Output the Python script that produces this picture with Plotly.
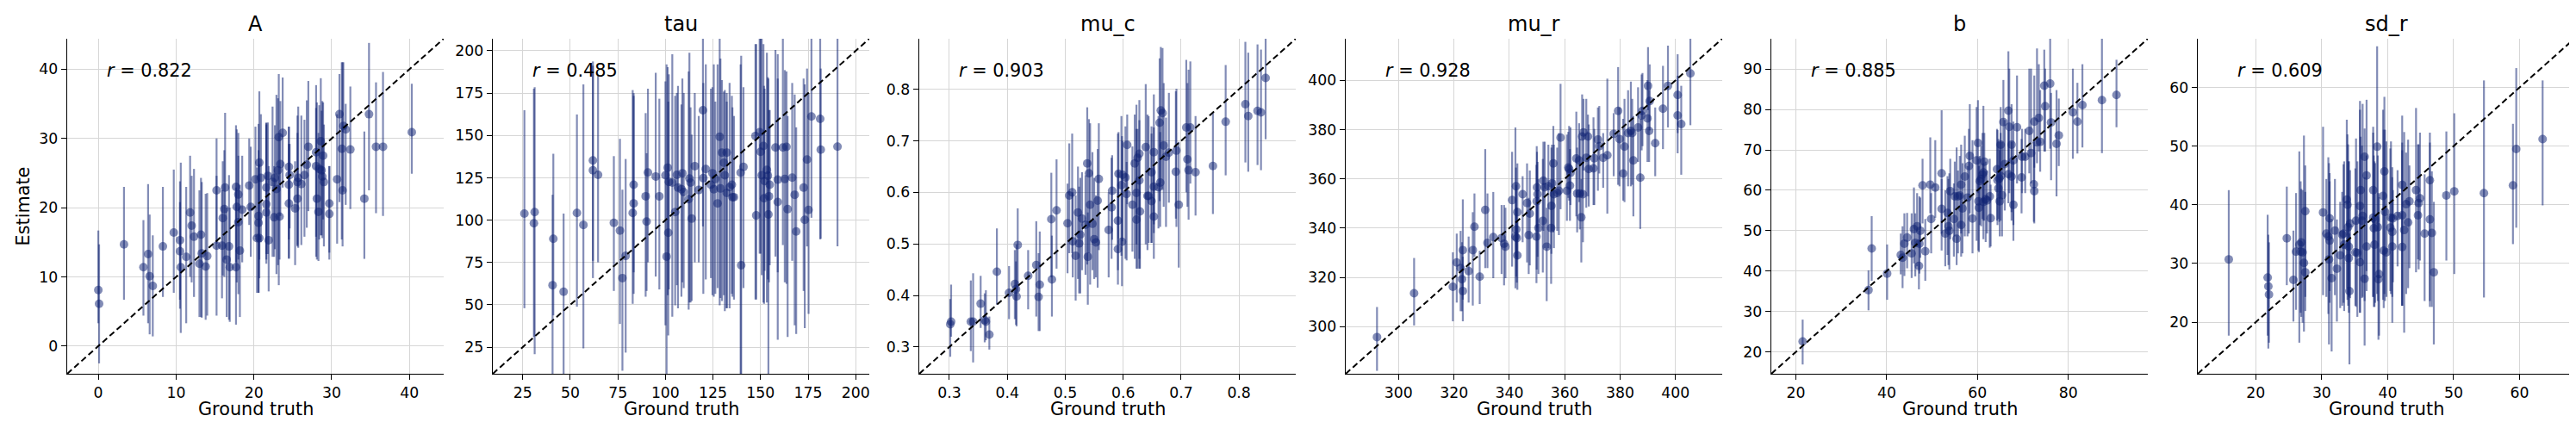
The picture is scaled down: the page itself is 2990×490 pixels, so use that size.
import plotly.graph_objects as go

# ---------------- data ----------------
panel_titles = ["A", "tau", "mu_c", "mu_r", "b", "sd_r"]
r_labels = ["0.822", "0.485", "0.903", "0.928", "0.885", "0.609"]

A_truth = [0.0,0.1,3.3,5.8,6.4,6.6,7.0,8.3,9.7,10.5,10.5,10.6,11.3,11.8,12.0,12.3,13.0,13.2,13.3,13.8,14.0,15.2,15.2,15.9,16.0,16.2,16.3,16.5,16.8,16.9,17.7,17.7,17.8,18.0,18.0,18.2,18.5,19.4,19.6,20.2,20.4,20.6,20.6,20.7,20.7,20.9,21.6,21.6,21.6,21.8,21.9,22.4,22.6,22.7,22.9,23.1,23.2,23.3,23.4,23.7,24.5,24.5,24.5,24.6,25.3,25.6,25.6,25.7,26.1,26.5,26.8,27.0,28.0,28.0,28.1,28.3,28.4,28.6,28.7,28.8,28.9,29.0,29.7,29.7,30.7,31.0,31.3,31.4,31.5,31.8,32.4,34.2,34.8,35.7,36.6,40.3]
A_est = [8.1,6.1,14.7,11.4,13.3,10.1,8.7,14.4,16.4,15.3,13.7,11.4,12.9,19.3,17.4,15.8,11.9,16.1,13.4,11.5,13.0,22.5,14.5,14.5,18.5,19.8,22.9,12.5,14.4,11.4,23.0,11.4,20.1,21.9,17.9,13.8,19.7,23.2,20.1,24.1,15.6,18.8,17.8,26.5,15.6,24.3,22.9,20.5,19.3,24.6,15.3,23.7,18.6,24.3,22.7,25.4,30.2,18.7,26.3,30.8,25.9,23.3,20.6,24.7,19.9,21.3,23.7,24.3,23.4,24.7,26.2,28.8,28.0,26.0,21.3,19.4,25.6,29.6,25.4,24.5,27.5,23.7,20.6,19.1,24.1,33.5,28.5,22.5,31.8,31.3,28.4,21.3,33.5,28.8,28.8,30.9]
A_lo = [3.3,-2.5,6.7,4.4,3.3,1.7,1.4,7.1,7.7,6.7,5.4,1.9,3.3,10.0,9.2,7.1,4.2,4.2,4.1,3.8,4.4,14.8,4.4,6.9,10.2,10.0,12.5,4.2,3.8,3.5,12.1,3.1,9.2,12.5,7.5,4.2,12.1,17.5,12.9,15.8,7.7,7.7,7.7,12.5,9.8,15.0,13.3,12.5,11.9,13.3,7.9,12.9,12.9,14.0,10.4,11.7,8.8,12.5,18.8,22.9,12.7,15.4,12.6,17.0,11.7,14.4,14.6,14.2,14.6,15.8,17.1,19.5,15.8,12.9,12.5,12.3,15.4,16.0,16.0,15.6,18.3,14.4,13.5,12.5,14.8,20.8,15.4,14.4,22.3,20.4,19.8,12.6,22.5,19.2,18.8,24.9]
A_hi = [16.7,14.7,23.0,18.2,23.4,19.0,16.0,23.0,25.5,23.8,20.8,26.5,23.0,27.5,24.6,25.6,22.5,24.3,23.7,22.0,22.1,30.0,24.6,22.5,26.7,28.3,33.7,20.0,24.7,20.0,31.9,22.9,31.3,30.8,27.5,23.3,27.5,30.0,28.8,31.7,25.8,32.1,28.3,36.8,26.3,33.5,32.3,32.2,32.0,32.3,26.0,34.6,26.0,31.9,36.3,35.8,39.3,30.4,35.4,38.8,31.7,31.7,29.2,29.2,26.7,30.8,33.3,34.6,33.3,32.7,35.5,38.3,34.4,37.7,35.2,30.8,34.8,38.7,34.0,35.4,35.2,32.0,26.0,26.0,33.5,39.3,41.0,41.0,41.0,35.0,37.5,31.0,43.8,38.1,39.6,37.9]

T_truth = [25.9,31.3,30.9,40.7,41.1,46.5,53.5,56.9,61.9,61.9,64.6,72.9,76.1,77.4,79.1,82.8,83.3,83.3,89.6,90.1,90.8,94.9,96.8,100.0,100.6,101.2,101.5,101.8,103.6,105.1,106.0,106.6,108.4,108.9,109.6,112.2,112.6,113.2,113.8,115.4,117.5,119.7,119.9,121.2,123.9,124.7,125.4,126.2,127.4,128.5,128.9,129.7,130.7,131.2,132.2,132.2,133.7,134.9,135.2,136.0,139.5,139.8,141.0,147.7,147.3,149.5,150.0,150.6,151.5,151.8,152.1,153.3,153.8,154.1,154.4,154.8,157.8,159.0,159.0,161.7,162.7,163.6,164.2,166.6,167.9,168.7,172.6,173.2,174.4,175.2,176.7,181.3,181.6,190.4]
T_est = [103.9,104.8,98.2,61.6,89.0,57.7,104.3,97.2,135.3,129.4,126.8,98.4,93.8,65.8,78.9,104.3,109.9,120.9,114.1,99.2,128.2,125.8,114.1,126.5,78.5,131.0,92.6,122.6,122.2,104.8,126.8,119.2,118.3,127.7,116.6,112.4,124.6,122.2,100.9,131.9,117.8,164.9,124.8,130.2,120.9,127.7,118.3,124.3,109.9,149.2,118.7,139.9,133.9,126.5,139.9,116.1,119.5,120.9,113.6,113.6,128.0,73.4,131.4,102.8,149.7,151.9,140.4,126.5,143.8,112.9,123.1,129.7,126.3,103.4,114.1,120.9,142.9,123.9,110.7,142.9,124.3,143.3,106.5,125.1,115.0,93.3,119.2,100.2,135.8,106.0,161.2,159.8,141.6,143.4]
T_lo = [48.0,20.9,31.1,5.0,43.8,5.0,48.9,24.3,76.0,65.8,75.1,58.2,38.7,11.1,21.8,50.6,69.2,56.5,54.8,58.2,75.1,66.7,59.1,37.9,5.0,55.7,31.9,59.1,43.0,49.7,61.6,48.0,54.8,63.3,59.9,47.2,51.4,51.4,52.3,75.1,75.1,96.3,56.5,65.0,65.8,55.7,54.8,56.5,59.9,49.7,54.0,52.3,55.7,46.3,48.0,48.0,48.0,56.5,54.8,53.1,5.0,5.0,59.9,53.1,53.1,80.2,80.2,67.5,51.4,50.6,70.1,51.4,65.0,5.0,63.3,73.4,78.5,69.2,29.4,85.3,63.3,62.4,31.1,76.0,37.9,32.8,58.2,36.2,84.5,44.7,101.4,88.7,89.0,84.5]
T_hi = [164.9,178.5,177.6,115.0,139.2,103.9,162.4,180.2,193.7,191.2,185.3,137.8,148.0,118.0,136.1,176.8,173.4,175.0,163.2,139.5,177.6,187.0,171.7,181.9,192.0,190.3,170.0,186.1,198.0,173.4,175.1,179.3,168.3,183.6,175.1,187.8,198.8,166.6,150.5,175.1,161.5,215.0,181.0,192.0,177.6,178.5,192.0,170.0,192.0,215.0,195.4,182.7,175.9,176.8,175.1,170.0,181.0,173.4,166.6,161.5,192.0,197.1,178.5,203.9,203.9,215.0,215.0,215.0,203.9,179.3,177.6,198.8,184.4,183.6,165.0,165.0,200.5,198.0,183.6,215.0,188.6,187.8,161.5,181.0,174.2,154.8,183.6,180.2,189.5,175.1,215.0,215.0,189.5,215.0]

C_truth = [0.3015,0.303,0.337,0.341,0.354,0.361,0.363,0.369,0.382,0.403,0.413,0.415,0.416,0.418,0.436,0.450,0.454,0.456,0.477,0.476,0.485,0.504,0.507,0.512,0.513,0.518,0.522,0.524,0.526,0.529,0.535,0.538,0.539,0.541,0.543,0.547,0.550,0.553,0.556,0.558,0.575,0.580,0.581,0.591,0.591,0.592,0.597,0.598,0.599,0.604,0.607,0.606,0.616,0.620,0.623,0.623,0.625,0.628,0.628,0.629,0.639,0.642,0.644,0.649,0.649,0.653,0.653,0.653,0.661,0.663,0.665,0.664,0.668,0.670,0.674,0.679,0.691,0.692,0.696,0.709,0.711,0.713,0.716,0.725,0.755,0.777,0.811,0.816,0.832,0.838,0.846]
C_est = [0.344,0.349,0.349,0.349,0.384,0.352,0.349,0.324,0.446,0.405,0.422,0.412,0.398,0.498,0.438,0.459,0.397,0.421,0.431,0.548,0.565,0.540,0.594,0.600,0.505,0.477,0.561,0.501,0.518,0.549,0.537,0.656,0.475,0.637,0.576,0.539,0.509,0.503,0.584,0.626,0.527,0.571,0.603,0.490,0.545,0.636,0.614,0.504,0.634,0.629,0.692,0.597,0.576,0.656,0.599,0.547,0.667,0.675,0.623,0.563,0.688,0.593,0.593,0.639,0.583,0.678,0.553,0.611,0.610,0.735,0.759,0.619,0.754,0.691,0.669,0.677,0.640,0.681,0.576,0.726,0.664,0.643,0.726,0.639,0.651,0.737,0.771,0.748,0.758,0.755,0.822]
C_lo = [0.281,0.320,0.292,0.270,0.337,0.309,0.313,0.295,0.382,0.354,0.354,0.343,0.340,0.407,0.373,0.359,0.331,0.331,0.359,0.435,0.452,0.443,0.482,0.482,0.435,0.390,0.432,0.404,0.404,0.449,0.440,0.460,0.382,0.482,0.421,0.449,0.432,0.435,0.415,0.488,0.435,0.471,0.508,0.421,0.449,0.510,0.477,0.418,0.505,0.471,0.577,0.468,0.485,0.471,0.452,0.499,0.452,0.452,0.471,0.452,0.499,0.488,0.502,0.502,0.502,0.538,0.471,0.521,0.530,0.583,0.617,0.533,0.605,0.572,0.533,0.580,0.549,0.533,0.454,0.600,0.572,0.547,0.617,0.555,0.558,0.633,0.658,0.640,0.653,0.643,0.703]
C_hi = [0.393,0.421,0.429,0.443,0.438,0.404,0.410,0.359,0.530,0.457,0.488,0.466,0.499,0.569,0.488,0.544,0.482,0.524,0.516,0.638,0.664,0.617,0.695,0.714,0.600,0.594,0.650,0.611,0.628,0.639,0.633,0.765,0.561,0.742,0.734,0.678,0.628,0.594,0.684,0.734,0.600,0.667,0.672,0.642,0.714,0.717,0.748,0.709,0.700,0.728,0.751,0.659,0.689,0.751,0.723,0.770,0.723,0.779,0.740,0.628,0.810,0.751,0.748,0.728,0.714,0.790,0.650,0.726,0.748,0.860,0.882,0.717,0.880,0.812,0.745,0.793,0.796,0.801,0.698,0.857,0.812,0.838,0.854,0.748,0.754,0.847,0.892,0.871,0.887,0.877,0.905]

R_truth = [292.2,305.6,319.6,321.0,322.4,322.9,323.2,323.2,325.3,326.8,327.4,329.3,331.3,332.1,334.2,337.2,338.1,338.6,341.0,342.2,342.4,342.5,342.7,342.9,342.9,344.8,346.4,347.0,347.4,349.8,349.9,350.0,350.2,350.5,352.1,352.3,352.8,353.5,354.1,355.1,355.2,355.4,355.9,356.1,357.3,357.9,358.5,360.8,361.3,361.6,361.9,362.1,364.2,364.5,365.2,365.5,366.0,366.3,366.6,366.8,367.8,368.4,368.7,370.4,370.7,372.0,372.5,373.9,375.4,377.7,379.3,379.8,381.1,381.6,382.9,383.9,384.4,384.8,386.5,387.3,387.8,388.1,389.9,390.1,390.5,390.7,392.7,395.5,397.3,400.8,400.8,402.1,405.4]
R_est = [295.8,313.6,316.2,326.1,323.8,319.3,331.1,314.5,322.6,331.1,340.6,320.3,347.4,334.0,336.4,336.0,333.7,332.5,351.4,336.6,357.0,339.5,336.0,329.0,346.5,353.8,350.2,337.2,345.9,336.6,350.9,356.6,353.8,340.1,343.0,359.3,356.6,332.5,357.0,340.1,349.1,358.2,366.3,353.8,354.3,355.2,376.8,355.2,364.6,364.0,357.3,362.5,368.3,354.1,367.5,354.1,344.4,377.2,353.8,378.9,368.6,377.2,364.0,364.3,368.4,376.0,373.3,368.6,369.6,378.3,387.6,376.2,362.2,373.1,378.6,379.5,378.6,367.5,380.9,360.5,385.8,387.6,384.6,397.8,379.5,391.6,374.5,388.5,397.8,385.8,394.1,382.3,402.8]
R_lo = [282.1,300.5,302.2,309.8,306.3,306.3,311.0,302.2,309.8,308.6,328.4,309.2,323.8,323.8,319.7,321.4,316.8,319.7,324.4,315.6,328.4,320.3,317.9,315.0,327.3,334.3,326.1,321.4,324.9,317.7,323.2,340.1,328.4,321.4,322.0,338.9,331.9,310.4,331.9,317.4,329.6,338.9,338.3,331.9,338.9,337.2,347.7,343.0,352.3,351.2,343.0,349.4,344.8,338.3,350.6,339.5,326.1,352.9,334.3,363.4,348.3,352.9,348.8,349.4,349.4,355.2,362.2,356.4,345.9,361.1,357.6,357.0,351.2,350.6,357.0,357.0,357.6,344.8,366.9,339.7,371.6,373.3,366.9,387.9,366.9,379.7,361.1,372.1,380.9,370.4,378.6,361.7,381.8]
R_hi = [308.0,327.9,330.2,337.8,338.9,334.3,351.7,328.4,336.6,346.5,354.1,330.8,372.1,354.1,354.7,349.4,349.4,348.3,371.0,380.9,364.6,357.6,348.3,342.4,366.3,361.1,366.3,352.3,363.4,365.7,373.3,371.0,366.9,359.9,368.1,375.1,375.1,348.3,373.9,355.2,372.7,373.9,381.5,373.9,372.7,378.6,398.6,378.0,379.1,381.5,372.1,380.9,387.3,372.7,382.6,376.2,359.9,394.3,366.9,392.5,392.5,386.1,382.1,385.0,380.3,389.0,389.6,378.6,400.7,386.7,405.4,389.0,384.4,392.5,396.0,399.5,392.5,385.5,397.2,384.4,402.4,403.0,400.1,413.5,396.0,406.5,389.0,405.9,414.1,401.9,410.6,397.8,418.0]

B_truth = [21.5,36.0,36.7,40.1,43.1,43.5,43.9,44.5,45.5,46.0,46.3,46.7,47.1,47.2,47.4,47.9,48.5,49.6,49.8,50.7,52.1,52.1,52.9,53.4,53.6,53.8,54.0,54.8,55.0,55.4,55.7,56.1,56.4,56.4,56.7,57.2,57.8,58.1,58.3,58.9,59.8,60.1,60.2,60.3,60.5,60.8,61.1,61.3,61.3,61.5,61.8,62.1,62.7,62.9,64.3,64.4,64.6,64.8,64.9,65.1,65.1,65.4,65.7,66.0,66.8,66.8,67.0,67.5,67.5,67.9,67.9,68.7,69.7,69.8,70.5,71.4,71.8,72.4,72.5,72.5,73.1,73.5,73.8,74.7,74.9,76.0,76.2,77.4,77.9,81.0,82.0,83.1,87.4,90.6]
B_est = [22.6,35.3,45.6,39.4,44.0,43.3,46.8,48.3,44.4,50.4,47.0,51.1,41.3,46.8,50.0,61.2,44.9,61.4,52.9,60.7,64.2,55.4,49.3,54.4,51.1,50.0,59.8,52.9,58.5,48.0,58.5,58.7,61.4,51.4,55.5,63.4,58.2,66.0,68.5,53.0,67.4,71.7,57.3,55.7,62.3,62.8,63.9,64.4,57.1,67.1,57.8,57.5,58.5,53.1,65.2,62.5,60.5,62.9,57.3,63.5,71.3,58.8,76.9,66.5,79.7,64.0,75.7,71.3,63.4,67.4,56.4,75.6,63.2,68.3,68.3,74.7,69.2,61.5,59.8,77.0,71.9,77.9,72.0,85.9,80.8,86.4,76.8,71.5,73.6,79.3,77.0,81.1,82.3,83.6]
B_lo = [16.9,30.3,37.6,32.9,39.2,35.8,38.8,40.7,38.3,41.9,38.7,41.2,35.5,39.4,43.3,51.8,37.6,54.3,44.4,53.2,49.3,45.1,41.2,44.0,41.5,40.4,47.9,43.6,48.6,41.5,44.4,50.7,49.3,43.6,44.4,48.6,48.6,49.3,54.3,44.4,47.5,59.3,45.1,44.7,51.4,51.1,52.9,52.5,47.9,52.5,47.2,49.3,45.8,46.1,52.5,51.4,52.9,52.2,48.6,52.5,58.2,48.6,63.9,55.0,66.7,56.8,59.3,54.6,52.5,51.4,47.5,61.7,54.3,59.3,59.3,64.2,61.7,52.2,51.8,65.6,66.7,69.6,64.6,69.6,69.6,70.3,62.5,58.5,66.0,67.8,69.1,70.6,69.2,75.6]
B_hi = [28.0,40.2,53.6,46.6,49.3,51.1,54.3,54.4,54.3,60.7,54.3,59.3,50.0,58.5,58.2,67.8,52.9,73.1,59.3,72.4,79.8,62.8,60.0,63.5,62.8,64.2,67.8,61.7,67.1,70.6,64.9,68.5,71.3,59.3,66.7,73.5,66.0,75.2,81.3,72.4,80.6,82.3,67.8,66.0,68.5,71.0,74.2,80.9,66.7,74.2,67.1,64.9,67.8,61.4,75.2,74.9,72.7,72.0,69.9,74.2,80.6,72.0,87.3,77.4,94.4,74.9,90.1,81.3,72.0,77.0,67.1,88.4,72.7,75.2,75.2,90.1,90.1,72.0,71.3,88.4,95.1,91.2,84.8,94.8,90.1,100.0,84.1,84.8,82.7,90.1,86.6,91.2,100.0,92.3]

S_truth = [15.9,21.8,21.9,22.0,24.7,25.7,26.1,26.6,26.8,26.9,27.1,27.3,27.5,27.5,30.2,30.7,31.0,31.1,31.2,31.2,31.5,32.0,32.3,32.8,33.1,33.3,33.4,33.8,33.9,34.0,34.1,34.1,34.2,34.3,35.1,35.2,35.4,35.8,35.8,35.9,36.1,36.2,36.5,36.5,36.8,36.8,37.8,37.8,37.9,38.0,38.1,38.4,38.5,38.7,38.6,39.3,39.4,39.5,39.6,39.8,40.4,40.5,40.7,40.7,40.8,41.5,42.2,42.2,42.2,42.5,42.8,43.1,43.3,44.3,44.6,44.7,44.9,45.6,46.4,46.4,46.7,47.0,48.9,50.1,54.6,59.0,59.5,63.5]
S_est = [30.7,27.6,26.1,24.7,34.3,27.2,32.0,33.2,32.0,33.6,31.9,30.1,38.9,28.5,38.7,35.1,34.6,30.7,37.7,33.9,27.5,35.6,29.1,31.4,34.9,35.1,33.2,40.9,40.0,36.2,30.9,32.9,25.3,36.8,31.9,37.3,31.8,30.2,39.8,42.5,37.3,38.1,27.4,48.2,45.0,32.9,42.5,37.8,36.0,33.2,37.5,49.9,36.2,28.2,27.3,41.5,32.2,45.7,38.8,31.9,36.1,37.8,32.9,35.4,37.7,38.1,32.8,38.2,43.4,35.7,40.1,37.0,40.6,42.5,38.2,40.3,41.1,35.1,44.2,37.5,35.2,28.5,41.6,42.3,42.0,43.3,49.5,51.2]
S_lo = [17.7,17.7,15.5,16.5,26.3,20.1,22.1,16.5,21.6,20.9,19.9,18.4,24.3,21.9,24.6,24.3,21.4,16.2,25.3,23.3,15.0,24.6,20.1,22.4,22.8,23.3,21.9,25.8,23.8,22.8,21.6,24.3,12.8,24.1,22.8,22.6,20.9,21.6,21.6,30.7,24.1,24.3,16.0,23.6,28.7,25.3,24.3,24.3,22.6,22.6,23.3,24.8,23.6,17.7,17.0,23.8,22.4,24.8,23.6,24.3,25.3,24.8,19.9,24.3,26.8,29.5,22.8,22.8,22.8,18.2,24.8,25.8,29.2,28.5,30.7,29.0,30.5,23.6,22.6,23.6,22.6,16.2,30.5,28.2,24.2,33.3,36.1,39.9]
S_hi = [42.5,38.3,34.9,33.6,43.1,35.6,42.0,49.1,44.0,42.7,42.5,51.8,46.7,42.2,53.3,44.4,48.1,47.1,45.4,44.0,37.6,44.4,37.5,40.5,42.2,46.9,47.4,54.5,52.0,50.3,47.4,47.4,35.1,45.9,46.2,51.3,47.4,57.7,56.2,51.6,50.1,57.2,44.7,53.0,57.9,48.4,52.3,53.3,48.4,47.4,47.1,67.0,48.4,41.3,42.0,56.2,52.8,58.4,52.8,50.8,49.6,50.8,46.4,44.7,42.5,45.9,55.2,50.6,49.3,52.4,48.9,51.1,46.7,56.5,50.3,50.3,52.3,45.2,52.3,50.6,45.7,40.5,52.5,55.6,61.2,53.8,63.3,61.2]

# shared axis limits per panel (x and y identical) and tick spacing
axis_limits = [[-4.0, 44.4], [9.3, 207.1], [0.248, 0.898], [280.9, 416.9], [14.6, 97.5], [11.2, 68.3]]
x_dticks = [10, 25, 0.1, 20, 20, 10]
y_dticks = [10, 25, 0.1, 20, 10, 10]

panels = [
    (A_truth, A_est, A_lo, A_hi),
    (T_truth, T_est, T_lo, T_hi),
    (C_truth, C_est, C_lo, C_hi),
    (R_truth, R_est, R_lo, R_hi),
    (B_truth, B_est, B_lo, B_hi),
    (S_truth, S_est, S_lo, S_hi),
]
for p in panels:
    assert len(set(len(a) for a in p)) == 1, [len(a) for a in p]

# ---------------- layout geometry / style ----------------
W, H = 2990, 490
left_px = [70, 564, 1059, 1554, 2048, 2543]
plot_w = 437
top_px, bottom_px = 37, 426
FONT = "DejaVu Sans"
POINT_COLOR = "rgba(15,35,115,0.52)"
GRID = "#d6d6d6"

fig = go.Figure()
layout = dict(
    width=W, height=H,
    margin=dict(l=0, r=0, t=0, b=0),
    paper_bgcolor="white", plot_bgcolor="white",
    showlegend=False,
    font=dict(family=FONT, color="black"),
    annotations=[], shapes=[],
)

ydom = [1 - bottom_px / H, 1 - top_px / H]
for i, ((tr, es, lo, hi), title, rlab) in enumerate(zip(panels, panel_titles, r_labels)):
    n = "" if i == 0 else str(i + 1)
    xa, ya = "x" + n, "y" + n
    xdom = [left_px[i] / W, (left_px[i] + plot_w) / W]
    common = dict(
        range=axis_limits[i], showgrid=True, gridcolor=GRID, gridwidth=1,
        showline=True, linecolor="black", linewidth=1.4, mirror=False,
        ticks="outside", ticklen=6, tickwidth=1.4, tickcolor="black",
        tickfont=dict(family=FONT, size=17.3, color="black"),
        zeroline=False, tick0=0,
    )
    layout["xaxis" + n] = dict(common, domain=xdom, anchor=ya, dtick=x_dticks[i])
    layout["yaxis" + n] = dict(common, domain=ydom, anchor=xa, dtick=y_dticks[i])

    fig.add_trace(go.Scatter(
        x=tr, y=es, mode="markers", xaxis=xa, yaxis=ya,
        marker=dict(size=10, color=POINT_COLOR, line=dict(width=0)),
        error_y=dict(type="data", symmetric=False,
                     array=[h - e for h, e in zip(hi, es)],
                     arrayminus=[e - l for e, l in zip(es, lo)],
                     color=POINT_COLOR, thickness=2.2, width=0),
        hoverinfo="skip",
    ))
    # identity line y = x across the shared limits
    fig.add_trace(go.Scatter(
        x=axis_limits[i], y=axis_limits[i], mode="lines", xaxis=xa, yaxis=ya,
        line=dict(color="black", width=2, dash="7px,4px"), hoverinfo="skip",
    ))

    cx = (xdom[0] + xdom[1]) / 2
    layout["annotations"].append(dict(
        text=title, x=cx, y=1 - 20 / H, xref="paper", yref="paper",
        xanchor="center", yanchor="middle", showarrow=False,
        font=dict(family=FONT, size=24, color="black")))
    layout["annotations"].append(dict(
        text="Ground truth", x=cx, y=1 - 467 / H, xref="paper", yref="paper",
        xanchor="center", yanchor="middle", showarrow=False,
        font=dict(family=FONT, size=20.8, color="black")))
    layout["annotations"].append(dict(
        text="<i>r</i> = " + rlab, x=0.1, y=0.905, xref=xa + " domain", yref=ya + " domain",
        xanchor="left", yanchor="middle", showarrow=False,
        font=dict(family=FONT, size=20.8, color="black")))

layout["annotations"].append(dict(
    text="Estimate", x=18 / W, y=1 - 231.5 / H, xref="paper", yref="paper",
    xanchor="center", yanchor="middle", textangle=-90, showarrow=False,
    font=dict(family=FONT, size=20.8, color="black")))

fig.update_layout(**layout)
fig.write_html("out.html")
